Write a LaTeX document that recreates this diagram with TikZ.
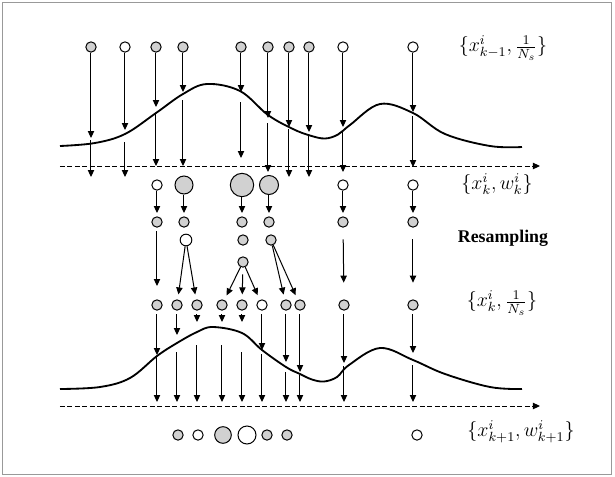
\documentclass[tikz,border=0pt]{standalone}
\usepackage{fontspec}
\setmainfont{Liberation Serif}
\usetikzlibrary{arrows.meta}

\begin{document}
\begin{tikzpicture}[x=0.6pt, y=-0.6pt,
  part/.style={circle, draw, line width=0.6pt, inner sep=0pt, minimum size=6.2pt, fill=white},
  gpart/.style={part, fill=black!18},
  arr/.style={-{Triangle[length=4.2pt,width=3.8pt]}, line width=0.6pt},
  lik/.style={line width=1.1pt},
  axis/.style={line width=0.6pt, dash pattern=on 3pt off 1.5pt, -{Triangle[length=4.2pt,width=3.8pt]}},
  lbl/.style={font=\large}]
\useasboundingbox (0,0) rectangle (615,476);
\draw[black!40, line width=0.6pt] (3,2) rectangle (612,474);

% likelihood curves
\draw[lik] plot[smooth, tension=0.6] coordinates {(60,146) (95,143) (125,134) (156,113) (183,94) (207,84) (240,91) (268,115) (293,129) (310,135.5) (325,138.5) (338,134.5) (350,125) (380,104) (413,113) (445,134) (490,146) (522,147)};
\draw[lik] plot[smooth, tension=0.6] coordinates {(60,389) (100,387) (130,378) (157,356) (177,343) (197,332) (213,327) (242,333) (262,350) (286,367) (300,374) (312,379.5) (324,381.5) (337,377) (349,365) (380,348) (413,360) (445,374) (490,387) (522,389)};

% axes
\coordinate (ax1) at (60,166);
\coordinate (ax1e) at (540,166);
\coordinate (ax2) at (60,406);
\coordinate (ax2e) at (540,406);
\draw[axis] (ax1) -- (ax1e);
\draw[axis] (ax2) -- (ax2e);

% prior particles
\foreach \i/\x/\s/\c/\b/\e in {1/91/gpart/138/140/177, 2/125/part/130/142/177, 3/156/gpart/107/113/166, 4/183/gpart/92/100/166, 5/241/gpart/92/102/158, 6/268/gpart/118/123/172, 7/289/gpart/127/129/177, 8/309/gpart/132/134/177, 9/343/part/127/130/172, 10/413/part/112/116/167} {
  \node[\s] (a\i) at (\x,47) {};
  \coordinate (ac\i) at (\x,\c);
  \coordinate (ab\i) at (\x,\b);
  \coordinate (ae\i) at (\x,\e);
  \draw[arr] (a\i) -- (ac\i);
  \draw[arr] (ab\i) -- (ae\i);
}

% weighted particles
\foreach \i/\x/\s/\d in {1/157/part/6.2pt, 2/184/gpart/10.8pt, 3/242/gpart/14pt, 4/269/gpart/11.4pt, 5/343/part/6.2pt, 6/413/part/6.2pt}
  \node[\s, minimum size=\d] (w\i) at (\x,185) {};
\foreach \i/\x in {1/157, 2/184, 3/242, 4/269, 5/343, 6/413} {
  \node[gpart] (r\i) at (\x,222) {};
  \draw[arr, shorten >=2pt] (w\i) -- (r\i);
}

% resampling
\node[part, minimum size=7pt] (s1) at (186,240) {};
\node[gpart] (s2) at (243,240) {};
\node[gpart] (s3) at (271,240) {};
\node[gpart] (s4) at (243,262) {};
\foreach \i/\x/\s in {1/157/gpart, 2/177/gpart, 3/197/gpart, 4/222/gpart, 5/242/gpart, 6/262/part, 7/286/gpart, 8/300/gpart, 9/344/gpart, 10/413/gpart}
  \node[\s] (n\i) at (\x,305) {};
\draw[arr, shorten <=2pt, shorten >=8pt] (r1) -- (n1);
\draw[arr, shorten >=3pt] (s1) -- (n2);
\draw[arr, shorten >=3pt] (s1) -- (n3);
\draw[arr, shorten >=3pt] (s4) -- (n4);
\draw[arr, shorten <=4pt, shorten >=3pt] (s4) -- (n5);
\draw[arr, shorten >=3pt] (s4) -- (n6);
\draw[arr, shorten >=3pt] (s3) -- (n7);
\draw[arr, shorten >=3pt] (s3) -- (n8);
\draw[arr, shorten <=7pt, shorten >=10pt] (r5) -- (n9);
\draw[arr, shorten <=7pt, shorten >=10pt] (r6) -- (n10);

% propagation to k+1
\foreach \i/\x/\c/\b in {1/157/355/357, 2/177/335/352, 3/197/322/345, 4/222/322/345, 5/242/322/352, 6/262/350/354, 7/286/362/372, 8/300/372/375, 9/344/363/366, 10/413/353/365} {
  \coordinate (nc\i) at (\x,\c);
  \coordinate (nb\i) at (\x,\b);
  \coordinate (ne\i) at (\x,402);
  \draw[arr, shorten <=2pt] (n\i) -- (nc\i);
  \draw[arr] (nb\i) -- (ne\i);
}
\foreach \i/\x/\s/\d in {1/178/gpart/6.2pt, 2/198/part/6.2pt, 3/223/gpart/10pt, 4/247/part/10.8pt, 5/267/gpart/6.2pt, 6/287/gpart/6.2pt, 7/417/part/6.2pt}
  \node[\s, minimum size=\d] (z\i) at (\x,435) {};

% labels
\node[lbl] (lab1) at (503,48) {$\{x^i_{k-1},\frac{1}{N_s}\}$};
\node[lbl] (lab2) at (497,184) {$\{x^i_k,w^i_k\}$};
\node[font=\fontsize{10.7}{12}\selectfont\bfseries] (lab3) at (503,238) {Resampling};
\node[lbl] (lab4) at (502,303) {$\{x^i_k,\frac{1}{N_s}\}$};
\node[lbl] (lab5) at (521,432) {$\{x^i_{k+1},w^i_{k+1}\}$};
\end{tikzpicture}
\end{document}
